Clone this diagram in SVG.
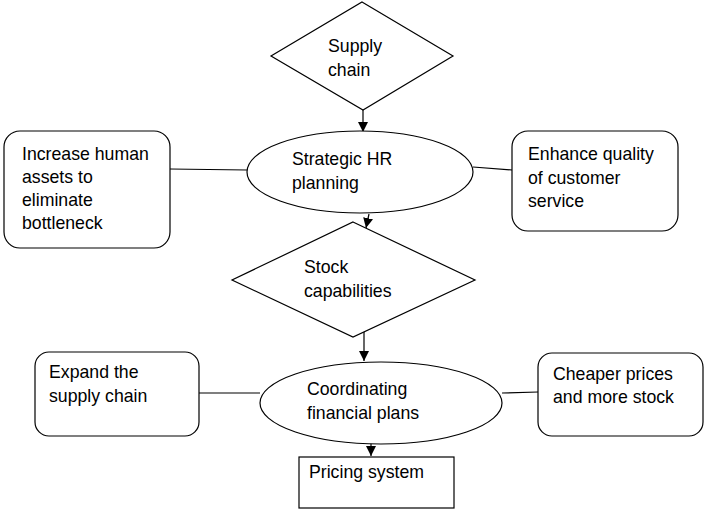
<svg xmlns="http://www.w3.org/2000/svg" width="709" height="511" viewBox="0 0 709 511">
<style>
.s{fill:#fff;stroke:#000;stroke-width:1.2}
.c{fill:none;stroke:#000;stroke-width:1.2}
text{font-family:"Liberation Sans",Arial,sans-serif;font-size:17.7px;fill:#000}
</style>
<defs>
<marker id="ah" viewBox="0 0 10 10" refX="10" refY="5" markerWidth="10" markerHeight="10" markerUnits="userSpaceOnUse" orient="auto">
<path d="M0,0 L10,5 L0,10 z" fill="#000"/>
</marker>
</defs>
<rect width="709" height="511" fill="#fff"/>
<g id="connectors">
<line class="c" x1="363" y1="110" x2="363" y2="132" marker-end="url(#ah)"/>
<line class="c" x1="170" y1="169" x2="247" y2="170"/>
<line class="c" x1="473" y1="167" x2="512" y2="170"/>
<line class="c" x1="369" y1="214" x2="366" y2="228" marker-end="url(#ah)"/>
<line class="c" x1="364" y1="331" x2="364" y2="361" marker-end="url(#ah)"/>
<line class="c" x1="199" y1="393" x2="260" y2="393"/>
<line class="c" x1="502" y1="393" x2="538" y2="392"/>
<line class="c" x1="371" y1="437" x2="371" y2="456" marker-end="url(#ah)"/>
</g>
<g id="supply-chain">
<polygon class="s" points="362,2 453,56 363,110 271,56"/>
<text x="328" y="52">Supply</text>
<text x="328" y="76">chain</text>
</g>
<g id="strategic-hr">
<ellipse class="s" cx="360" cy="172" rx="113" ry="41"/>
<text x="292" y="165">Strategic HR</text>
<text x="292" y="189">planning</text>
</g>
<g id="increase-human">
<rect class="s" x="4" y="131" width="166" height="117" rx="16"/>
<text x="22" y="160">Increase human</text>
<text x="22" y="183">assets to</text>
<text x="22" y="206">eliminate</text>
<text x="22" y="229">bottleneck</text>
</g>
<g id="enhance-quality">
<rect class="s" x="512" y="131" width="166" height="100" rx="16"/>
<text x="528" y="160">Enhance quality</text>
<text x="528" y="183.5">of customer</text>
<text x="528" y="207">service</text>
</g>
<g id="stock-capabilities">
<polygon class="s" points="353,222 475,280 353,337 232,280"/>
<text x="304" y="273">Stock</text>
<text x="304" y="297">capabilities</text>
</g>
<g id="coordinating">
<ellipse class="s" cx="381" cy="403" rx="121" ry="41"/>
<text x="307" y="395">Coordinating</text>
<text x="307" y="419">financial plans</text>
</g>
<g id="expand">
<rect class="s" x="35" y="352" width="164" height="84" rx="14"/>
<text x="49" y="378">Expand the</text>
<text x="49" y="402">supply chain</text>
</g>
<g id="cheaper">
<rect class="s" x="538" y="353" width="165" height="83" rx="14"/>
<text x="553" y="380">Cheaper prices</text>
<text x="553" y="403">and more stock</text>
</g>
<g id="pricing">
<rect class="s" x="299" y="457" width="155" height="51"/>
<text x="309" y="478">Pricing system</text>
</g>
</svg>
